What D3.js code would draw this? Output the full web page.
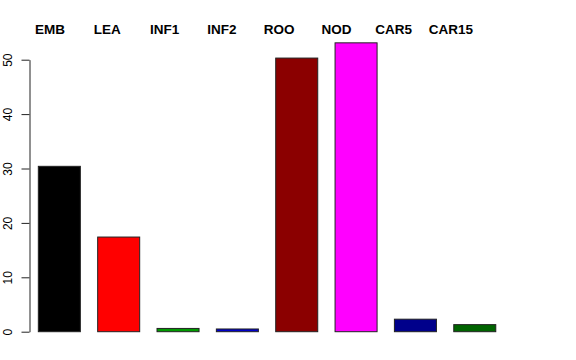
<!DOCTYPE html>
<html>
<head>
<meta charset="utf-8">
<script src="https://cdn.jsdelivr.net/npm/d3@7"></script>
<style>
  html, body { margin: 0; padding: 0; background: #fff; }
  svg { display: block; }
</style>
</head>
<body>
<svg id="chart" width="576" height="360"></svg>
<script>
const categories = ["EMB", "LEA", "INF1", "INF2", "ROO", "NOD", "CAR5", "CAR15"];
const values = [30.4, 17.4, 0.6, 0.5, 50.3, 53.1, 2.3, 1.3];
const colors = ["#000000", "#ff0000", "#009a00", "#0000c8", "#8b0000", "#ff00ff", "#00008b", "#006400"];
const yTicks = [0, 10, 20, 30, 40, 50];

const svg = d3.select("#chart");

const y = d3.scaleLinear().domain([0, 50]).range([331.7, 59.7]);
const x = d3.scaleBand().domain(categories)
  .range([29.6, 504.5]).paddingInner(0.292).paddingOuter(0.147);
const xLab = d3.scalePoint().domain(categories).range([50, 451]);

// bars
svg.append("g").selectAll("rect")
  .data(categories)
  .join("rect")
  .attr("x", d => x(d))
  .attr("width", x.bandwidth())
  .attr("y", (d, i) => y(values[i]))
  .attr("height", (d, i) => y(0) - y(values[i]))
  .attr("fill", (d, i) => colors[i])
  .attr("stroke", "#222")
  .attr("stroke-width", 1);

// y axis
const yAxis = svg.append("g")
  .attr("transform", "translate(29.5,0)")
  .call(d3.axisLeft(y).tickValues(yTicks).tickSize(8).tickSizeOuter(0).tickFormat(d3.format("d")));
yAxis.select(".domain").attr("stroke", "#222");
yAxis.selectAll(".tick line").attr("stroke", "#222");
yAxis.selectAll(".tick text")
  .attr("x", null).attr("dy", null)
  .attr("transform", "translate(-17.5,0) rotate(-90)")
  .attr("text-anchor", "middle")
  .attr("fill", "#000")
  .style("font-family", "'Liberation Sans', Arial, Helvetica, sans-serif")
  .style("font-size", "12px");

// category labels on top
svg.append("g").selectAll("text")
  .data(categories)
  .join("text")
  .attr("x", d => xLab(d))
  .attr("y", 34)
  .attr("text-anchor", "middle")
  .style("font-family", "'Liberation Sans', Arial, Helvetica, sans-serif")
  .style("font-weight", "bold")
  .style("font-size", "13.5px")
  .text(d => d);
</script>
</body>
</html>
